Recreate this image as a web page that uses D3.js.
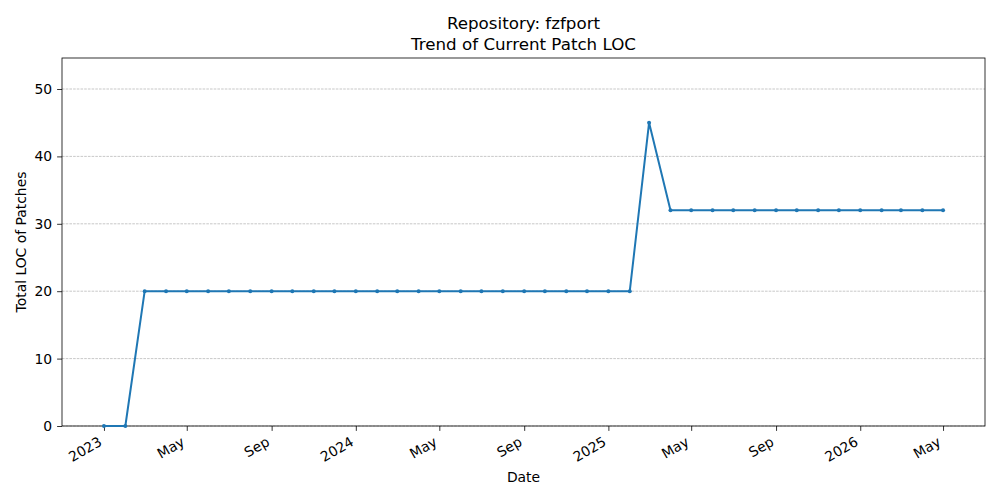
<!DOCTYPE html>
<html>
<head>
<meta charset="utf-8">
<script src="https://cdn.jsdelivr.net/npm/d3@7"></script>
<style>
  body { margin: 0; background: #fff; }
  svg text { font-family: "DejaVu Sans", sans-serif; fill: #000; }
  .grid line { stroke: #b0b0b0; stroke-width: 0.7; stroke-dasharray: 2.6,1.1; }
</style>
</head>
<body>
<div id="chart"></div>
<script>
'use strict';

// monthly samples, Jan 2023 .. May 2026
var months = [
    "2023-01", "2023-02", "2023-03", "2023-04", "2023-05", "2023-06", "2023-07", "2023-08",
    "2023-09", "2023-10", "2023-11", "2023-12", "2024-01", "2024-02", "2024-03", "2024-04",
    "2024-05", "2024-06", "2024-07", "2024-08", "2024-09", "2024-10", "2024-11", "2024-12",
    "2025-01", "2025-02", "2025-03", "2025-04", "2025-05", "2025-06", "2025-07", "2025-08",
    "2025-09", "2025-10", "2025-11", "2025-12", "2026-01", "2026-02", "2026-03", "2026-04",
    "2026-05"
];
var loc = [
    0, 0, 20, 20, 20, 20, 20, 20,
    20, 20, 20, 20, 20, 20, 20, 20,
    20, 20, 20, 20, 20, 20, 20, 20,
    20, 20, 45, 32, 32, 32, 32, 32,
    32, 32, 32, 32, 32, 32, 32, 32,
    32
];
var xTicks = ["2023-01", "2023-05", "2023-09", "2024-01", "2024-05", "2024-09",
              "2025-01", "2025-05", "2025-09", "2026-01", "2026-05"];
var yTicks = [0, 10, 20, 30, 40, 50];
var titleLines = ["Repository: fzfport", "Trend of Current Patch LOC"];

var width = 1000, height = 500;
var margin = { top: 58, right: 15, bottom: 74, left: 62 };
var plotW = width - margin.left - margin.right;
var plotH = height - margin.top - margin.bottom;

var parse = d3.timeParse("%Y-%m");
var data = months.map(function (m, i) { return { date: parse(m), value: loc[i] }; });

var first = data[0].date, last = data[data.length - 1].date;
var span = last - first;
var x = d3.scaleTime()
    .domain([new Date(+first - span * 0.05), new Date(+last + span * 0.05)])
    .range([0, plotW]);
var y = d3.scaleLinear().domain([0, 54.6]).range([plotH, 0]);

var svg = d3.select("#chart").append("svg")
    .attr("width", width)
    .attr("height", height);

var g = svg.append("g")
    .attr("transform", "translate(" + margin.left + "," + margin.top + ")");

// horizontal grid
g.append("g")
    .attr("class", "grid")
    .selectAll("line")
    .data(yTicks)
    .enter().append("line")
    .attr("x1", 0)
    .attr("x2", plotW)
    .attr("y1", function (d) { return y(d); })
    .attr("y2", function (d) { return y(d); });

function fmtTick(d) {
    return d.getMonth() === 0 ? d3.timeFormat("%Y")(d) : d3.timeFormat("%b")(d);
}

var xAxis = g.append("g")
    .attr("transform", "translate(0," + plotH + ")")
    .call(d3.axisBottom(x)
        .tickValues(xTicks.map(parse))
        .tickFormat(fmtTick)
        .tickSize(4.9)
        .tickPadding(4.9));
// matplotlib-style rotated labels: top-right corner of rotated box at the tick
xAxis.selectAll("text")
    .attr("font-size", "13.9px")
    .attr("text-anchor", "end")
    .attr("y", 0)
    .attr("dy", 0)
    .attr("transform", "translate(-1.6,18.6) rotate(-30)");

var yAxis = g.append("g")
    .call(d3.axisLeft(y)
        .tickValues(yTicks)
        .tickSize(4.9)
        .tickPadding(4.9));
yAxis.selectAll("text").attr("font-size", "13.9px");

[xAxis, yAxis].forEach(function (a) {
    a.select(".domain").remove();
    a.selectAll(".tick line").attr("stroke", "#000").attr("stroke-width", 0.8);
});

// frame
g.append("rect")
    .attr("width", plotW)
    .attr("height", plotH)
    .attr("fill", "none")
    .attr("stroke", "#000")
    .attr("stroke-width", 0.8);

var line = d3.line()
    .x(function (d) { return x(d.date); })
    .y(function (d) { return y(d.value); });

g.append("path")
    .datum(data)
    .attr("fill", "none")
    .attr("stroke", "#1f77b4")
    .attr("stroke-width", 2)
    .attr("stroke-linejoin", "round")
    .attr("d", line);

g.selectAll("circle.pt")
    .data(data)
    .enter().append("circle")
    .attr("class", "pt")
    .attr("cx", function (d) { return x(d.date); })
    .attr("cy", function (d) { return y(d.value); })
    .attr("r", 2)
    .attr("fill", "#1f77b4");

// titles and axis labels
svg.selectAll("text.title")
    .data(titleLines)
    .enter().append("text")
    .attr("class", "title")
    .attr("x", margin.left + plotW / 2)
    .attr("y", function (d, i) { return 29 + i * 21; })
    .attr("text-anchor", "middle")
    .attr("font-size", "16.7px")
    .text(function (d) { return d; });

svg.append("text")
    .attr("x", margin.left + plotW / 2)
    .attr("y", 482)
    .attr("text-anchor", "middle")
    .attr("font-size", "13.9px")
    .text("Date");

svg.append("text")
    .attr("transform", "translate(26," + (margin.top + plotH / 2) + ") rotate(-90)")
    .attr("text-anchor", "middle")
    .attr("font-size", "13.9px")
    .text("Total LOC of Patches");
</script>
</body>
</html>
